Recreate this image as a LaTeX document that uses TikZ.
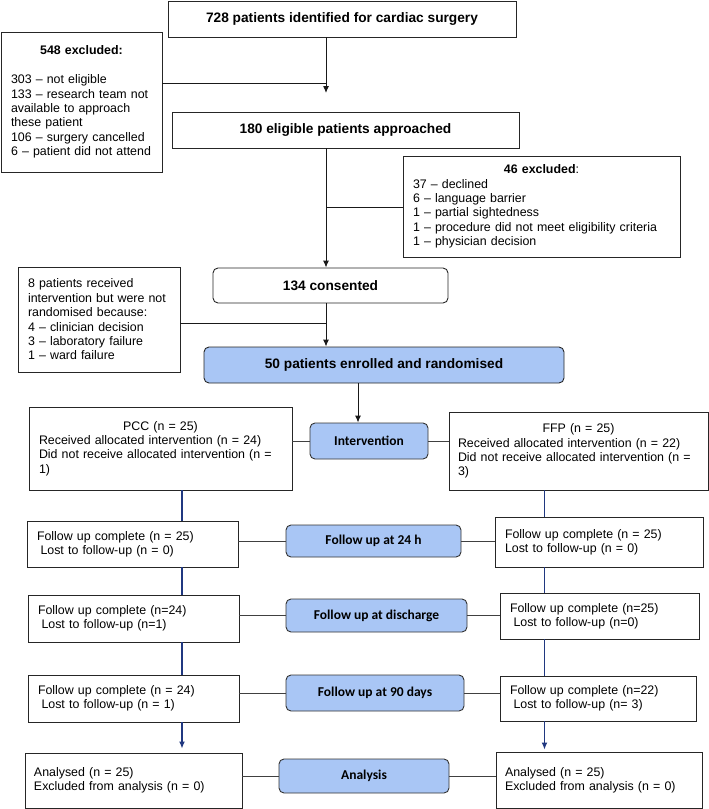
\documentclass[tikz,border=0pt]{standalone}
\usepackage{fontspec}
\setmainfont{Liberation Sans}
\newfontfamily\calibrifont{Carlito}
\usetikzlibrary{arrows.meta}
\definecolor{boxblue}{RGB}{169,198,245}
\definecolor{armnavy}{RGB}{32,56,128}

\tikzset{
  headbox/.style={draw=black!85, line width=0.9pt, font=\fontsize{13.7}{16}\selectfont\bfseries, inner sep=0pt},
  listbox/.style={draw=black!85, line width=0.9pt, align=left, inner ysep=0pt, font=\fontsize{12.4}{14.4}\selectfont},
  stagebox/.style={draw=black!80, line width=0.9pt, fill=boxblue, rounded corners=5pt, inner sep=0pt, font=\calibrifont\bfseries\fontsize{13.5}{16}\selectfont},
  flow/.style={line width=1pt, black!90},
  flowarrow/.style={flow, -{Latex[length=7pt,width=6pt]}},
  link/.style={line width=0.8pt, black!75},
  armline/.style={line width=1.3pt, armnavy},
}

\begin{document}
\begin{tikzpicture}[x=1pt, y=-1pt]
\useasboundingbox (0,0) rectangle (709,809);

\node[headbox, minimum width=348, minimum height=36] (identified) at (342,19) {728 patients identified for cardiac surgery};
\node[listbox, inner xsep=10pt, text width=141pt, minimum height=140] (excluded1) at (81.5,102) {\makebox[\linewidth]{\bfseries 548 excluded:}\\[14.4pt]303 -- not eligible\\133 -- research team not\\available to approach\\these patient\\106 -- surgery cancelled\\6 -- patient did not attend};
\node[headbox, minimum width=347, minimum height=36] (approached) at (345.5,130) {180 eligible patients approached};
\node[listbox, inner xsep=10pt, text width=257pt, minimum height=101] (excluded2) at (541.5,206.5) {\makebox[\linewidth]{\textbf{46 excluded}:}\\37 -- declined\\6 -- language barrier\\1 -- partial sightedness\\1 -- procedure did not meet eligibility criteria\\1 -- physician decision};
\node[headbox, rounded corners=5pt, minimum width=235, minimum height=35] (consented) at (330.5,285.5) {134 consented};
\node[listbox, inner xsep=10pt, text width=142pt, minimum height=105] (notrandomised) at (99,319.5) {8 patients received\\intervention but were not\\randomised because:\\4 -- clinician decision\\3 -- laboratory failure\\1 -- ward failure};
\node[headbox, fill=boxblue, rounded corners=5pt, minimum width=360, minimum height=36] (enrolled) at (384,365) {50 patients enrolled and randomised};

\coordinate (spine) at (326,0);
\coordinate (gap1) at (326,93);
\coordinate (junction1) at (326,83);
\coordinate (junction2) at (326,207);
\coordinate (junction3) at (326,323);
\coordinate (drop) at (358,0);

\draw[flowarrow] (identified.south -| spine) -- (gap1);
\draw[flow] (excluded1.east |- junction1) -- (junction1);
\draw[flowarrow] (approached.south -| spine) -- (consented.north -| spine);
\draw[flow] (excluded2.west |- junction2) -- (junction2);
\draw[flowarrow] (consented.south -| spine) -- (enrolled.north -| spine);
\draw[flow] (notrandomised.east |- junction3) -- (junction3);

\node[stagebox, minimum width=118, minimum height=36] (intervention) at (369,441) {Intervention};
\node[listbox, inner xsep=10pt, text width=243pt, minimum height=83] (pcc) at (160.5,448.5) {\makebox[\linewidth]{PCC (n = 25)}\\Received allocated intervention (n = 24)\\Did not receive allocated intervention (n =\\1)};
\node[listbox, inner xsep=9pt, text width=241pt, minimum height=78] (ffp) at (578.5,451) {\makebox[\linewidth]{FFP (n = 25)}\\Received allocated intervention (n = 22)\\Did not receive allocated intervention (n =\\3)};
\draw[flowarrow] (enrolled.south -| drop) -- (intervention.north -| drop);
\draw[link] (intervention.west) -- (intervention.west -| pcc.east);
\draw[link] (intervention.east) -- (intervention.east -| ffp.west);

\node[stagebox, minimum width=175, minimum height=32] (followday) at (373.5,541) {Follow up at 24 h};
\node[listbox, inner xsep=10pt, text width=191pt, minimum height=46] (followdayl) at (132.5,544) {Follow up complete (n = 25)\\\hspace*{3.5pt}Lost to follow-up (n = 0)};
\node[listbox, inner xsep=10pt, text width=188pt, minimum height=50] (followdayr) at (599,542) {Follow up complete (n = 25)\\Lost to follow-up (n = 0)};
\draw[link] (followday.west) -- (followday.west -| followdayl.east);
\draw[link] (followday.east) -- (followday.east -| followdayr.west);

\node[stagebox, minimum width=181, minimum height=33] (followdis) at (376.5,615.5) {Follow up at discharge};
\node[listbox, inner xsep=10pt, text width=191pt, minimum height=47] (followdisl) at (133.5,618.5) {Follow up complete (n=24)\\\hspace*{3.5pt}Lost to follow-up (n=1)};
\node[listbox, inner xsep=10pt, text width=179pt, minimum height=46] (followdisr) at (599.5,616) {Follow up complete (n=25)\\\hspace*{3.5pt}Lost to follow-up (n=0)};
\draw[link] (followdis.west) -- (followdis.west -| followdisl.east);
\draw[link] (followdis.east) -- (followdis.east -| followdisr.west);

\node[stagebox, minimum width=178, minimum height=36] (followninety) at (375,693) {Follow up at 90 days};
\node[listbox, inner xsep=10pt, text width=191pt, minimum height=47] (followninetyl) at (133.5,698.5) {Follow up complete (n = 24)\\\hspace*{3.5pt}Lost to follow-up (n = 1)};
\node[listbox, inner xsep=10pt, text width=176pt, minimum height=45] (followninetyr) at (598,698.5) {Follow up complete (n=22)\\\hspace*{3.5pt}Lost to follow-up (n= 3)};
\draw[link] (followninety.west) -- (followninety.west -| followninetyl.east);
\draw[link] (followninety.east) -- (followninety.east -| followninetyr.west);

\node[stagebox, minimum width=170, minimum height=34] (analysis) at (364,776) {Analysis};
\node[listbox, inner xsep=9pt, text width=199pt, minimum height=55] (analysisl) at (133.5,780.5) {Analysed (n = 25)\\Excluded from analysis (n = 0)};
\node[listbox, inner xsep=9pt, text width=188pt, minimum height=56] (analysisr) at (599,780) {Analysed (n = 25)\\Excluded from analysis (n = 0)};
\draw[link] (analysis.west) -- (analysis.west -| analysisl.east);
\draw[link] (analysis.east) -- (analysis.east -| analysisr.west);

\coordinate (leftarm) at (182,0);
\coordinate (rightarm) at (544.5,0);
\draw[armline] (pcc.south -| leftarm) -- (followdayl.north -| leftarm);
\draw[armline] (followdayl.south -| leftarm) -- (followdisl.north -| leftarm);
\draw[armline] (followdisl.south -| leftarm) -- (followninetyl.north -| leftarm);
\draw[armline, -{Latex[length=7pt,width=6pt]}, shorten >=4pt] (followninetyl.south -| leftarm) -- (analysisl.north -| leftarm);
\draw[armline] (ffp.south -| rightarm) -- (followdayr.north -| rightarm);
\draw[armline] (followdayr.south -| rightarm) -- (followdisr.north -| rightarm);
\draw[armline] (followdisr.south -| rightarm) -- (followninetyr.north -| rightarm);
\draw[armline, -{Latex[length=7pt,width=6pt]}, shorten >=2pt] (followninetyr.south -| rightarm) -- (analysisr.north -| rightarm);
\end{tikzpicture}
\end{document}
